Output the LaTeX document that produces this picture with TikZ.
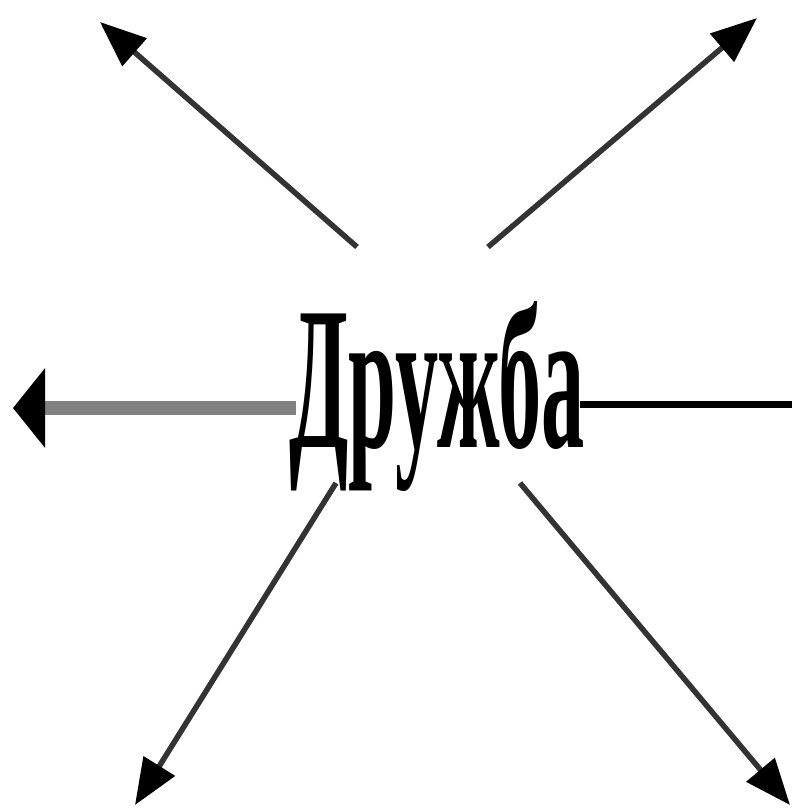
\documentclass[tikz,border=0pt]{standalone}
\usepackage{fontspec}
\usepackage{graphicx}
\setmainfont{Liberation Serif}
\usetikzlibrary{arrows.meta}
\begin{document}
\begin{tikzpicture}[x=1pt,y=-1pt,
  diag/.style={line width=5.5pt, draw=black!80, -{Triangle[length=46pt,width=36pt,color=black]}},
  leftarr/.style={line width=14pt, draw=black!50, -{Triangle[length=32pt,width=78pt,color=black]}},
  plain/.style={line width=7pt, draw=black},
  word/.style={anchor=base west, inner sep=0pt, outer sep=0pt}]
\fill[white] (0,0) rectangle (792,808);
\useasboundingbox (0,0) rectangle (792,808);
\node[word] (t) at (289,447) {\resizebox{296pt}{\height}{\fontsize{204}{210}\selectfont\bfseries Дружба}};
% connector end points
\coordinate (tlS) at (357,247);
\coordinate (tlE) at (100,22);
\coordinate (trS) at (488,247);
\coordinate (trE) at (757,18);
\coordinate (lS) at (296,408);
\coordinate (lE) at (13,408);
\coordinate (rS) at (580,404);
\coordinate (rE) at (792,404);
\coordinate (blS) at (336,483);
\coordinate (blE) at (135,805);
\coordinate (brS) at (520,483);
\coordinate (brE) at (790,805);
\draw[diag] (tlS) -- (tlE);
\draw[diag] (trS) -- (trE);
\draw[leftarr] (lS) -- (lE);
\draw[plain] (rS) -- (rE);
\draw[diag] (blS) -- (blE);
\draw[diag] (brS) -- (brE);
\end{tikzpicture}
\end{document}
